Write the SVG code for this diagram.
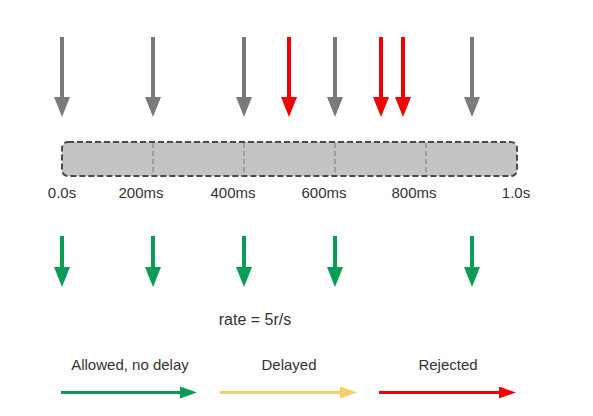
<svg xmlns="http://www.w3.org/2000/svg" width="593" height="416" viewBox="0 0 593 416">
<style>
.t{font-family:"Liberation Sans",Arial,sans-serif;font-size:15px;fill:#333;text-anchor:middle}
.g{stroke:#7a7a7a;stroke-width:4;marker-end:url(#hg)}
.r{stroke:#f00000;stroke-width:4;marker-end:url(#hr)}
.gr{stroke:#0a9b55;stroke-width:4;marker-end:url(#hgr)}
.div{stroke:#888;stroke-width:1.2;stroke-dasharray:5 3}
</style>
<defs>
<marker id="hg" viewBox="0 0 20 16" refX="0" refY="8" markerWidth="20" markerHeight="16" markerUnits="userSpaceOnUse" orient="auto"><path d="M0,0 L20,8 L0,16 z" fill="#7a7a7a"/></marker>
<marker id="hr" viewBox="0 0 20 16" refX="0" refY="8" markerWidth="20" markerHeight="16" markerUnits="userSpaceOnUse" orient="auto"><path d="M0,0 L20,8 L0,16 z" fill="#f00000"/></marker>
<marker id="hgr" viewBox="0 0 20 16" refX="0" refY="8" markerWidth="20" markerHeight="16" markerUnits="userSpaceOnUse" orient="auto"><path d="M0,0 L20,8 L0,16 z" fill="#0a9b55"/></marker>
<marker id="lg" viewBox="0 0 17 12" refX="0" refY="6" markerWidth="17" markerHeight="12" markerUnits="userSpaceOnUse" orient="auto"><path d="M0,0 L17,6 L0,12 z" fill="#0a9b55"/></marker>
<marker id="ly" viewBox="0 0 17 12" refX="0" refY="6" markerWidth="17" markerHeight="12" markerUnits="userSpaceOnUse" orient="auto"><path d="M0,0 L17,6 L0,12 z" fill="#f5cd6a"/></marker>
<marker id="lr" viewBox="0 0 17 12" refX="0" refY="6" markerWidth="17" markerHeight="12" markerUnits="userSpaceOnUse" orient="auto"><path d="M0,0 L17,6 L0,12 z" fill="#f00000"/></marker>
</defs>
<rect width="593" height="416" fill="#fff"/>
<g id="timeline">
<rect x="62" y="142" width="455" height="34" rx="6" fill="#c4c4c4" stroke="#4a4a4a" stroke-width="2" stroke-dasharray="6 3"/>
<line class="div" x1="153" y1="143" x2="153" y2="175"/>
<line class="div" x1="244" y1="143" x2="244" y2="175"/>
<line class="div" x1="335" y1="143" x2="335" y2="175"/>
<line class="div" x1="426" y1="143" x2="426" y2="175"/>
</g>
<g id="labels">
<text class="t" x="62" y="198">0.0s</text>
<text class="t" x="141" y="198">200ms</text>
<text class="t" x="233" y="198">400ms</text>
<text class="t" x="324" y="198">600ms</text>
<text class="t" x="414" y="198">800ms</text>
<text class="t" x="516" y="198">1.0s</text>
<text class="t" x="255" y="325" style="font-size:16px">rate = 5r/s</text>
</g>
<g id="connectors">
<line class="g" x1="62" y1="37" x2="62" y2="97"/>
<line class="g" x1="153" y1="37" x2="153" y2="97"/>
<line class="g" x1="244" y1="37" x2="244" y2="97"/>
<line class="r" x1="289" y1="37" x2="289" y2="97"/>
<line class="g" x1="335" y1="37" x2="335" y2="97"/>
<line class="r" x1="381" y1="37" x2="381" y2="97"/>
<line class="r" x1="403" y1="37" x2="403" y2="97"/>
<line class="g" x1="472" y1="37" x2="472" y2="97"/>
<line class="gr" x1="62" y1="236" x2="62" y2="267"/>
<line class="gr" x1="153" y1="236" x2="153" y2="267"/>
<line class="gr" x1="244" y1="236" x2="244" y2="267"/>
<line class="gr" x1="335" y1="236" x2="335" y2="267"/>
<line class="gr" x1="472" y1="236" x2="472" y2="267"/>
</g>
<g id="legend">
<text class="t" x="130" y="370">Allowed, no delay</text>
<text class="t" x="289" y="370">Delayed</text>
<text class="t" x="448" y="370">Rejected</text>
<line x1="61" y1="392.5" x2="180" y2="392.5" stroke="#0a9b55" stroke-width="3" marker-end="url(#lg)"/>
<line x1="220" y1="392.5" x2="340" y2="392.5" stroke="#f5cd6a" stroke-width="3" marker-end="url(#ly)"/>
<line x1="379" y1="392.5" x2="499" y2="392.5" stroke="#f00000" stroke-width="3" marker-end="url(#lr)"/>
</g>
</svg>
